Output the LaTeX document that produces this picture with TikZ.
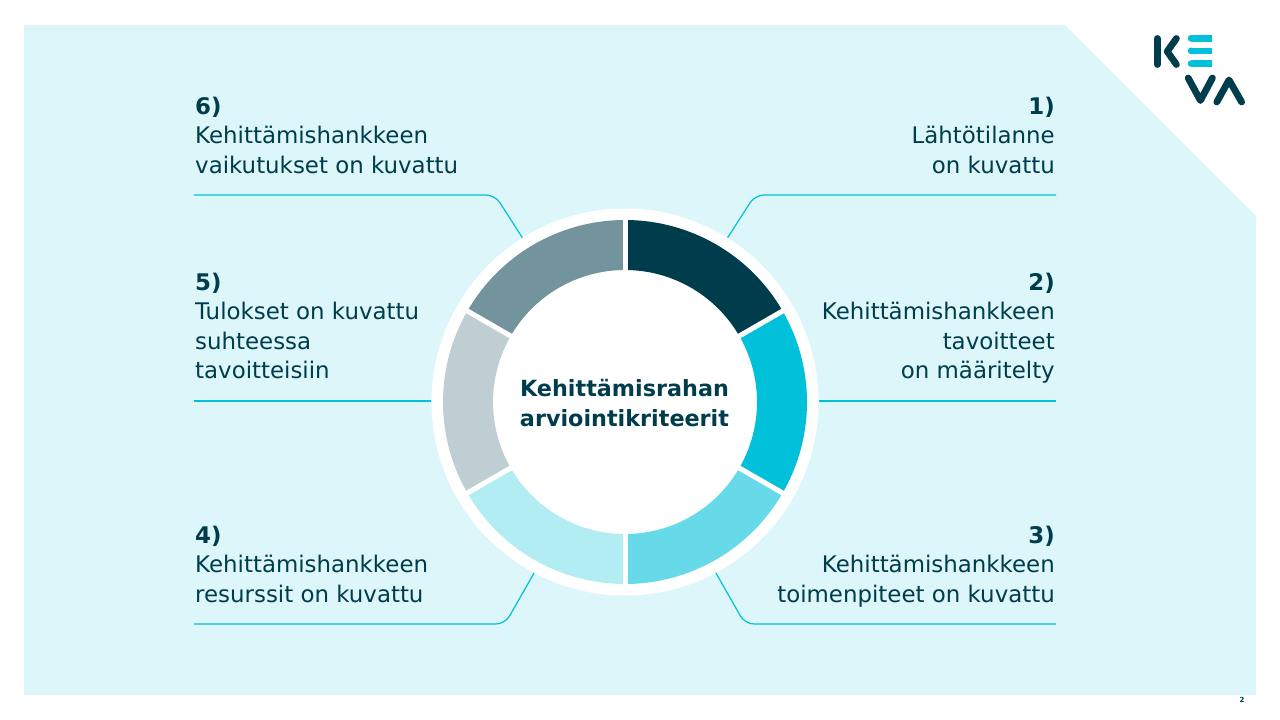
\documentclass[tikz,border=0pt]{standalone}
\usepackage{fontspec}
\setmainfont{DejaVu Sans}
\definecolor{kevadark}{HTML}{003D4C}
\definecolor{kevacyan}{HTML}{00C1D9}
\definecolor{kevamid}{HTML}{66DAE8}
\definecolor{kevalight}{HTML}{B2EDF4}
\definecolor{kevagrey}{HTML}{BFCED2}
\definecolor{kevaslate}{HTML}{73939D}
\definecolor{kevabg}{HTML}{DCF6FA}
\tikzset{
    crit/.style={text=kevadark,inner sep=0pt,font=\fontsize{22.9}{29.5}\selectfont},
    critleft/.style={crit,anchor=north west,align=left},
    critright/.style={crit,anchor=north east,align=right},
    leader/.style={draw=kevacyan,line width=1.2pt,rounded corners=9pt},
    logobar/.style={draw=kevadark,line width=6.8pt,line cap=round,line join=round},
}
\begin{document}
\begin{tikzpicture}[x=1pt,y=-1pt]
    \useasboundingbox (0,0) rectangle (1280,720);
    \fill[kevabg] (24,25) -- (1065,25) -- (1256,216) -- (1256,695) -- (24,695) -- cycle;

    \node[circle,fill=white,inner sep=0pt,minimum size=387pt] (ring) at (625,402) {};
    \begin{scope}[shift={(625,402)}]
        \foreach \col [count=\i] in {kevadark,kevacyan,kevamid,kevalight,kevagrey,kevaslate}{
            \pgfmathsetmacro{\a}{-90+60*(\i-1)}
            \draw[\col,line width=50pt] (\a:157) arc[start angle=\a,delta angle=60,radius=157];
        }
        \foreach \a in {-90,-30,...,240}{
            \draw[white,line width=5pt] (\a:128) -- (\a:186);
        }
    \end{scope}
    \node[text=kevadark,align=center,font=\fontsize{22.3}{29.5}\selectfont\bfseries] (title) at (624.5,403) {Kehittämisrahan\\arviointikriteerit};

    \node[critright] (crit1) at (1055,96.5) {\textbf{1)}\\Lähtötilanne\\on kuvattu};
    \node[critright] (crit2) at (1055,272.5) {\textbf{2)}\\Kehittämishankkeen\\tavoitteet\\on määritelty};
    \node[critright] (crit3) at (1055,525.5) {\textbf{3)}\\Kehittämishankkeen\\toimenpiteet on kuvattu};
    \node[critleft] (crit4) at (195,525.5) {\textbf{4)}\\Kehittämishankkeen\\resurssit on kuvattu};
    \node[critleft] (crit5) at (195,272.5) {\textbf{5)}\\Tulokset on kuvattu\\suhteessa\\tavoitteisiin};
    \node[critleft] (crit6) at (195,96.5) {\textbf{6)}\\Kehittämishankkeen\\vaikutukset on kuvattu};

    \coordinate (end1) at (1056,195);
    \coordinate (end2) at (1056,401);
    \coordinate (end3) at (1056,624);
    \coordinate (end4) at (194,624);
    \coordinate (end5) at (194,401);
    \coordinate (end6) at (194,195);
    \draw[leader] (ring.58) -- (755,195) -- (end1);
    \draw[leader] (end2 -| ring.east) -- (end2);
    \draw[leader] (ring.-62) -- (745,624) -- (end3);
    \draw[leader] (ring.-118) -- (505,624) -- (end4);
    \draw[leader] (end5 -| ring.west) -- (end5);
    \draw[leader] (ring.122) -- (495,195) -- (end6);

    % logo
    \draw[logobar] (1157.4,38.5) -- (1157.4,64.5);
    \draw[logobar] (1176.4,38.5) -- (1167.2,51.4) -- (1176.4,64.5);
    \foreach \y in {38.3,50.8,63.6}{
        \draw[kevacyan,line width=6.6pt] (1191,\y) -- (1212,\y);
        \fill[kevacyan] (1191,\y) circle (3.3);
    }
    \draw[logobar] (1188.2,78) -- (1200.4,100.5) -- (1212.4,78);
    \draw[logobar] (1216.8,102) -- (1229,80) -- (1241.6,102);

    \node[text=kevadark,inner sep=0pt,font=\fontsize{7}{8}\selectfont\bfseries] (pagenum) at (1242,700) {2};
\end{tikzpicture}
\end{document}
